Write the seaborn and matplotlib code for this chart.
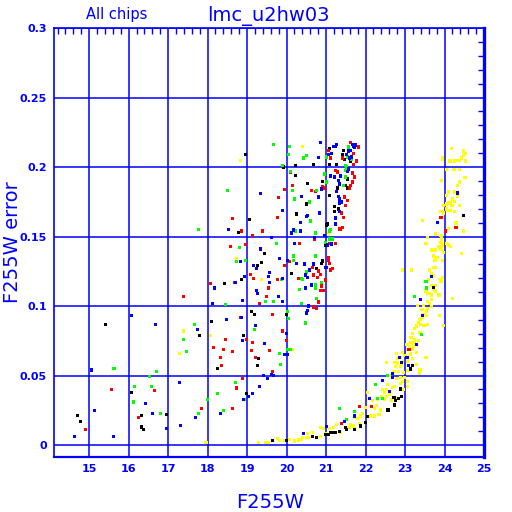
import numpy as np
import pandas as pd
import matplotlib
matplotlib.use("Agg")
import matplotlib.pyplot as plt
import seaborn as sns
from matplotlib.ticker import MultipleLocator, FixedLocator

# ---------------- data ----------------
black_mag = [15.41, 17.79, 16.07, 16.95, 14.70, 14.77, 16.32, 16.32, 16.37,
             18.96, 19.92, 19.06, 18.78, 19.44, 19.37, 19.26, 18.86, 18.43,
             19.11, 19.19, 20.00, 18.10, 18.91, 19.29, 19.26, 18.25, 18.98, 19.64, 20.00,
             20.23, 20.69, 21.09, 21.27, 21.62, 21.09, 21.45, 21.42, 21.47, 20.23, 21.55,
             21.50, 21.55, 20.91, 20.53, 21.09, 21.29, 21.22, 20.51, 20.25, 21.22, 21.32,
             21.02, 21.04, 20.99, 20.91, 20.89, 20.13, 20.76,
             21.35, 21.24, 21.19, 21.12, 21.07, 20.99, 20.76, 20.66,
             23.20, 23.13, 22.89, 22.92, 22.72, 22.77, 22.83, 22.57, 22.74, 22.05, 22.01,
             21.88, 21.50, 21.52, 21.73, 24.49, 23.71]
black_err = [0.087, 0.079, 0.038, 0.022, 0.021, 0.017, 0.021, 0.013, 0.011,
             0.209, 0.200, 0.162, 0.153, 0.138, 0.131, 0.129, 0.119, 0.116,
             0.096, 0.094, 0.094, 0.089, 0.079, 0.062, 0.057, 0.055, 0.037, 0.003, 0.003,
             0.2014, 0.202, 0.202, 0.202, 0.2043, 0.213, 0.212, 0.2093, 0.2057, 0.194, 0.1914,
             0.187, 0.1849, 0.1899, 0.1882, 0.1798, 0.1849, 0.1719, 0.1734, 0.1662, 0.1683, 0.1698,
             0.1583, 0.159, 0.1439, 0.1324, 0.1309, 0.1237, 0.1273,
             0.010, 0.0089, 0.0089, 0.0089, 0.0074, 0.0074, 0.0053, 0.006,
             0.057, 0.0547, 0.0403, 0.0352, 0.034, 0.032, 0.0333, 0.0252, 0.0288, 0.0204, 0.016,
             0.0137, 0.0127, 0.0113, 0.011, 0.1654, 0.1136]

red_mag = [17.39, 15.56, 16.65, 17.84, 16.24, 14.90,
           20.10, 19.95, 19.80, 18.63, 19.77, 18.86, 19.39, 19.14, 18.58, 18.96, 20.08, 19.95,
           19.09, 19.16, 19.77, 18.07, 18.68, 19.54, 19.49,
           19.31, 19.64, 18.83, 19.90, 18.45, 18.98, 19.14, 20.00, 18.15, 18.40, 18.63, 19.11,
           19.57, 18.32, 19.21, 18.35, 19.64, 18.88, 18.73, 18.63,
           21.07, 21.12, 21.62, 21.73, 21.83, 21.70, 21.78, 21.70, 21.42, 20.15, 21.24, 21.29,
           21.67, 21.73, 21.67, 21.62, 21.60, 20.91, 20.96, 20.63, 20.74, 21.47, 21.55, 21.50,
           21.45, 21.39, 21.35, 21.37, 21.42, 20.71, 20.33, 21.09, 21.24, 21.07, 21.07, 21.09,
           21.17, 21.12, 20.66, 20.81, 20.86, 20.69, 20.30, 20.79, 20.99, 20.89,
           20.86, 20.94, 20.81, 20.69, 20.76,
           23.10, 22.16, 21.84, 21.40, 23.91, 24.29, 24.03]
red_err = [0.107, 0.040, 0.039, 0.026, 0.020, 0.011,
           0.196, 0.184, 0.178, 0.163, 0.164, 0.154, 0.154, 0.151, 0.143, 0.144, 0.132, 0.129,
           0.123, 0.120, 0.119, 0.116, 0.117, 0.113, 0.107,
           0.102, 0.094, 0.092, 0.082, 0.076, 0.076, 0.074, 0.075, 0.070, 0.069, 0.067, 0.068,
           0.068, 0.063, 0.063, 0.057, 0.053, 0.048, 0.041, 0.026,
           0.212, 0.2065, 0.2175, 0.2165, 0.2144, 0.210, 0.2043, 0.202, 0.2065, 0.187, 0.1978, 0.1964,
           0.1957, 0.1928, 0.1892, 0.187, 0.1849, 0.1856, 0.1849, 0.1834, 0.1827, 0.1784, 0.1762, 0.172,
           0.164, 0.1669, 0.1554, 0.1554, 0.1568, 0.1482, 0.1453, 0.1453, 0.1453, 0.1352, 0.133, 0.1309,
           0.1273, 0.1259, 0.128, 0.1252, 0.123, 0.1223, 0.1201, 0.1208, 0.1187, 0.1144,
           0.111, 0.111, 0.1029, 0.0993, 0.098,
           0.069, 0.028, 0.028, 0.0154, 0.164, 0.1568, 0.154]

green_mag = [17.78, 17.66, 17.39, 17.46, 15.63, 16.70, 16.52, 16.14, 16.57, 16.12, 16.80, 17.77,
             19.67, 20.08, 20.05, 19.90, 18.50, 18.81, 19.75, 18.73, 18.96, 19.87,
             18.45, 19.47, 19.67, 19.19, 20.03, 20.05, 20.03, 20.10, 19.82, 19.85, 18.71, 18.93,
             17.99, 18.25, 18.40,
             20.51, 20.43, 21.02, 21.57, 21.55, 21.65, 21.50, 21.52, 20.10, 20.15, 20.20, 20.96,
             21.50, 21.50, 21.45, 21.02, 20.76, 20.58, 20.61, 20.23, 20.74, 21.09, 21.12, 21.09,
             21.17, 20.99, 20.18, 20.18, 20.74, 20.51, 20.38, 20.41, 20.89, 20.74, 20.33, 20.74,
             20.76, 20.38, 20.48, 21.35,
             23.41, 23.05, 22.55, 22.26, 22.30, 22.43, 21.73, 21.52,
             23.53, 23.55, 23.25]
green_err = [0.155, 0.087, 0.076, 0.067, 0.055, 0.053, 0.049, 0.042, 0.042, 0.031, 0.023, 0.023,
             0.216, 0.215, 0.209, 0.201, 0.183, 0.142, 0.145, 0.132, 0.133, 0.119,
             0.101, 0.103, 0.103, 0.083, 0.096, 0.091, 0.069, 0.069, 0.066, 0.058, 0.045, 0.033,
             0.033, 0.037, 0.025,
             0.208, 0.2065, 0.2072, 0.2144, 0.2072, 0.2057, 0.2014, 0.200, 0.197, 0.1834, 0.177, 0.195,
             0.1978, 0.1928, 0.187, 0.1892, 0.1834, 0.1748, 0.1612, 0.154, 0.1525, 0.154, 0.1551, 0.1482,
             0.1482, 0.146, 0.136, 0.133, 0.136, 0.1245, 0.1201, 0.1194, 0.1172, 0.1158, 0.1122, 0.113,
             0.1057, 0.1021, 0.0878, 0.0261,
             0.0798, 0.063, 0.050, 0.0434, 0.0333, 0.0333, 0.024, 0.0185,
             0.1175, 0.113, 0.107]

blue_mag = [16.07, 16.68, 17.74, 15.06, 17.28, 16.43, 15.13, 16.60, 17.69, 16.95, 17.31, 14.62, 15.61,
            19.34, 19.90, 18.53, 19.62, 19.34, 19.82, 20.03, 18.83, 19.16, 19.24, 19.57, 19.54,
            18.93, 19.90, 18.17, 18.71, 19.24, 19.26, 19.57, 19.80, 18.88,
            18.12, 19.90, 18.86, 18.48, 19.21, 20.00, 18.88, 19.44, 19.95, 20.03, 19.42, 19.62,
            19.67, 19.52, 19.31, 19.14, 19.03, 18.91, 18.32,
            20.86, 21.27, 21.24, 21.19, 20.81, 21.07, 21.14, 21.67, 21.75, 21.73, 21.70, 21.62,
            21.57, 21.52, 21.65, 21.60, 21.12, 21.22, 21.55, 21.57, 21.37, 21.32, 21.35, 20.89,
            20.38, 20.81, 21.27, 21.32, 21.35, 21.39, 21.35, 20.53, 20.51, 20.84, 21.35, 21.24,
            20.36, 20.18, 20.36, 21.24, 20.96, 20.13, 20.71, 20.20, 21.04, 21.14, 20.25, 20.46,
            20.69, 20.99, 21.02, 20.58, 20.48, 20.53, 20.63, 20.48,
            20.56, 20.53, 20.51, 20.43, 21.00,
            23.45, 23.30, 22.87, 22.92, 23.08, 22.68, 22.68, 22.44, 22.61, 22.11, 21.71, 21.47, 23.05,
            24.32, 23.82, 23.66, 23.40]
blue_err = [0.093, 0.087, 0.083, 0.054, 0.045, 0.030, 0.025, 0.023, 0.020, 0.012, 0.014, 0.006, 0.006,
            0.181, 0.169, 0.155, 0.149, 0.141, 0.134, 0.133, 0.132, 0.129, 0.127, 0.124, 0.121,
            0.121, 0.120, 0.113, 0.117, 0.111, 0.109, 0.117, 0.107, 0.104,
            0.102, 0.103, 0.092, 0.090, 0.086, 0.080, 0.075, 0.073, 0.065, 0.065, 0.050, 0.051,
            0.050, 0.048, 0.042, 0.037, 0.035, 0.033, 0.023,
            0.2175, 0.2165, 0.215, 0.215, 0.207, 0.2093, 0.210, 0.2165, 0.2158, 0.2144, 0.215, 0.212,
            0.2115, 0.2093, 0.2072, 0.2065, 0.1935, 0.1928, 0.197, 0.1986, 0.1935, 0.1906, 0.1878, 0.1842,
            0.1791, 0.1784, 0.1827, 0.1791, 0.177, 0.1748, 0.1741, 0.1654, 0.1647, 0.1669, 0.1683, 0.1633,
            0.1604, 0.1547, 0.154, 0.159, 0.151, 0.1525, 0.149, 0.1453, 0.1439, 0.1446, 0.1309, 0.1302,
            0.1302, 0.128, 0.128, 0.1259, 0.1223, 0.1208, 0.1151, 0.113,
            0.100, 0.0971, 0.095, 0.0082, 0.0132,
            0.093, 0.0722, 0.063, 0.0592, 0.057, 0.0484, 0.0513, 0.0463, 0.0384, 0.0333, 0.0209, 0.017, 0.0628,
            0.1813, 0.160, 0.121, 0.105]

yellow_mag = [17.39, 17.28, 17.96, 18.83, 18.73, 19.37, 18.07, 20.15,
              19.29, 19.47, 19.54, 19.77, 19.82, 19.95, 20.08, 20.41, 21.07,
              21.27, 21.18, 21.09, 20.94, 20.86, 20.66, 20.53, 20.51, 20.56, 20.41, 20.38, 20.30,
              20.20, 20.99, 20.86,
              23.32, 23.47, 23.57, 23.62, 23.67, 23.57, 23.54, 23.43, 23.48, 23.53, 23.43, 23.87,
              23.38, 23.33, 23.40, 23.48, 23.58, 23.30, 23.25, 23.20, 23.38, 23.15, 23.25, 23.33,
              23.14, 23.20, 23.12, 23.05, 23.22, 23.25, 23.06, 23.20, 23.14, 22.94, 23.30, 23.00,
              23.07, 23.19, 22.89, 22.81, 22.79, 22.94, 22.92, 23.06, 23.53, 23.30, 23.38, 22.81,
              22.73, 22.77, 22.89, 22.84, 22.96, 23.06, 23.36, 22.72, 22.60, 22.68, 22.79, 22.88,
              22.99, 22.94, 23.06, 22.88, 22.74, 23.06, 22.97, 22.68, 22.55, 22.53, 22.43, 22.47,
              22.40, 22.60, 22.53, 22.47, 22.77, 22.66, 22.30, 22.05, 22.17, 22.28, 22.22, 22.00,
              22.39, 22.34, 22.23, 22.13, 21.93, 21.88, 21.79, 21.75, 21.62, 21.69, 21.84, 21.73,
              21.58, 21.37, 23.98, 22.54,
              24.18, 24.49, 24.52, 24.47, 24.42, 24.39, 24.34, 24.26, 24.14, 23.96, 23.96, 24.54,
              24.06, 24.24, 24.39, 24.52, 24.37, 24.34, 23.93, 24.11, 24.26, 24.04, 24.32, 24.21,
              24.26, 24.09, 24.14, 24.04, 23.98, 24.19, 24.37, 24.06, 24.11, 24.16, 24.26, 23.91,
              23.98, 23.45, 24.29, 24.29, 24.11, 24.47, 23.78, 23.91, 23.93, 23.91, 23.57, 23.53,
              23.86, 23.96, 24.06, 24.11, 24.16, 23.91, 23.68, 23.76, 23.98, 24.42, 23.71, 23.78,
              23.81, 23.76, 23.96, 23.73, 23.78, 23.63, 23.66, 22.94, 23.17, 23.71, 23.88, 23.91,
              23.96, 23.60, 23.76, 23.66, 23.71, 23.53, 23.63, 23.68, 23.58, 23.78, 23.86, 23.66,
              24.21]
yellow_err = [0.082, 0.066, 0.002, 0.205, 0.134, 0.119, 0.079, 0.069,
              0.002, 0.002, 0.002, 0.005, 0.003, 0.003, 0.004, 0.215, 0.1525,
              0.0151, 0.0125, 0.0117, 0.0117, 0.0125, 0.009, 0.0082, 0.0053, 0.0053, 0.0053, 0.0043, 0.0036,
              0.0029, 0.0082, 0.006,
              0.1007, 0.1007, 0.103, 0.102, 0.0995, 0.098, 0.0964, 0.0976, 0.0942, 0.093, 0.0916, 0.093,
              0.090, 0.088, 0.087, 0.0863, 0.087, 0.0856, 0.0837, 0.0801, 0.081, 0.0772, 0.0762, 0.075,
              0.0736, 0.0734, 0.0712, 0.0724, 0.0712, 0.0734, 0.0688, 0.0688, 0.0655, 0.0664, 0.0664, 0.0643,
              0.0621, 0.0621, 0.063, 0.0623, 0.066, 0.060, 0.0587, 0.0599, 0.063, 0.058, 0.054, 0.059,
              0.0595, 0.0563, 0.0563, 0.0532, 0.052, 0.0537, 0.0515, 0.0527, 0.0503, 0.0484, 0.0477, 0.0487,
              0.0487, 0.046, 0.046, 0.044, 0.0424, 0.042, 0.040, 0.0415, 0.0434, 0.0398, 0.0398, 0.0381,
              0.0348, 0.0367, 0.0352, 0.0328, 0.0343, 0.0324, 0.0331, 0.0381, 0.032, 0.0285, 0.0264, 0.0271,
              0.0252, 0.022, 0.0209, 0.0209, 0.0228, 0.0209, 0.019, 0.0199, 0.0151, 0.0137, 0.0156, 0.012,
              0.0125, 0.009, 0.0863, 0.0595,
              0.213, 0.2115, 0.210, 0.208, 0.2065, 0.205, 0.205, 0.2043, 0.2043, 0.2065, 0.2057, 0.2043,
              0.198, 0.198, 0.198, 0.1923, 0.1892, 0.187, 0.190, 0.182, 0.182, 0.1798, 0.1791, 0.177,
              0.1755, 0.1741, 0.1741, 0.1734, 0.172, 0.172, 0.172, 0.1698, 0.169, 0.169, 0.1683, 0.1683,
              0.1669, 0.1618, 0.1604, 0.1592, 0.1556, 0.154, 0.1518, 0.151, 0.1482, 0.146, 0.149, 0.1453,
              0.1431, 0.1439, 0.1453, 0.1439, 0.1431, 0.141, 0.1403, 0.1403, 0.1388, 0.1381, 0.136, 0.1352,
              0.1352, 0.133, 0.133, 0.128, 0.128, 0.1259, 0.1237, 0.1259, 0.1259, 0.1216, 0.1194, 0.118,
              0.1208, 0.1194, 0.115, 0.115, 0.1122, 0.1108, 0.1093, 0.1079, 0.1093, 0.1108, 0.1079, 0.105,
              0.1057]

y_ticks = [0, 0.05, 0.1, 0.15, 0.2, 0.25, 0.3]
y_tick_labels = ["0", "0.05", "0.1", "0.15", "0.2", "0.25", "0.3"]
x_ticks = [15, 16, 17, 18, 19, 20, 21, 22, 23, 24, 25]

chip_colors = {"yellow": "#FFFF00", "black": "#000000", "red": "#FF0000",
               "green": "#00FF00", "blue": "#0000FF"}

frames = []
for name, m, e in [("yellow", yellow_mag, yellow_err), ("black", black_mag, black_err),
                   ("red", red_mag, red_err), ("green", green_mag, green_err),
                   ("blue", blue_mag, blue_err)]:
    frames.append(pd.DataFrame({"mag": m, "err": e, "chip": name}))
df = pd.concat(frames, ignore_index=True)

# ---------------- plot ----------------
sns.set_style("white")
BLUE = "#0000FF"
fig = plt.figure(figsize=(5.12, 5.12), dpi=100)
ax = fig.add_axes([54/512, 1-457/512, (484-54)/512, (457-28)/512])

sns.scatterplot(data=df, x="mag", y="err", hue="chip", palette=chip_colors,
                marker="s", s=5, linewidth=0, legend=False, ax=ax, zorder=3)

ax.set_xlim(14.11, 25.0)
ax.set_ylim(-0.0086, 0.3)

ax.set_xticks(x_ticks)
ax.set_xticklabels([str(t) for t in x_ticks])
ax.set_yticks(y_ticks)
ax.set_yticklabels(y_tick_labels)
ax.xaxis.set_minor_locator(MultipleLocator(0.2))
ax.yaxis.set_minor_locator(MultipleLocator(0.01))
ax.grid(True, which="major", color=BLUE, linewidth=1.1)
ax.set_axisbelow(True)

for side, lw in [("left", 1.2), ("top", 1.2), ("bottom", 1.6), ("right", 2.4)]:
    ax.spines[side].set_color(BLUE)
    ax.spines[side].set_linewidth(lw)

ax.tick_params(which="both", direction="in", top=True, right=True, colors=BLUE,
               labelcolor=BLUE)
ax.tick_params(which="major", length=0, labelsize=8, pad=5)
ax.tick_params(which="minor", length=4, width=1)
for lab in ax.get_xticklabels() + ax.get_yticklabels():
    lab.set_fontweight("bold")

ax.set_xlabel("F255W", color=BLUE, fontsize=14)
ax.xaxis.set_label_coords((270-54)/430, -(493-457)/429)
ax.set_ylabel("F255W error", color=BLUE, fontsize=14)
ax.yaxis.set_label_coords(-(54-22)/430, (457-242)/429)
fig.text(268/512, 1-16/512, "lmc_u2hw03", color=BLUE, fontsize=14, ha="center", va="center")
fig.text(117/512, 1-14/512, "All chips", color=BLUE, fontsize=10.5, ha="center", va="center")

fig.savefig("out.png", dpi=100)
